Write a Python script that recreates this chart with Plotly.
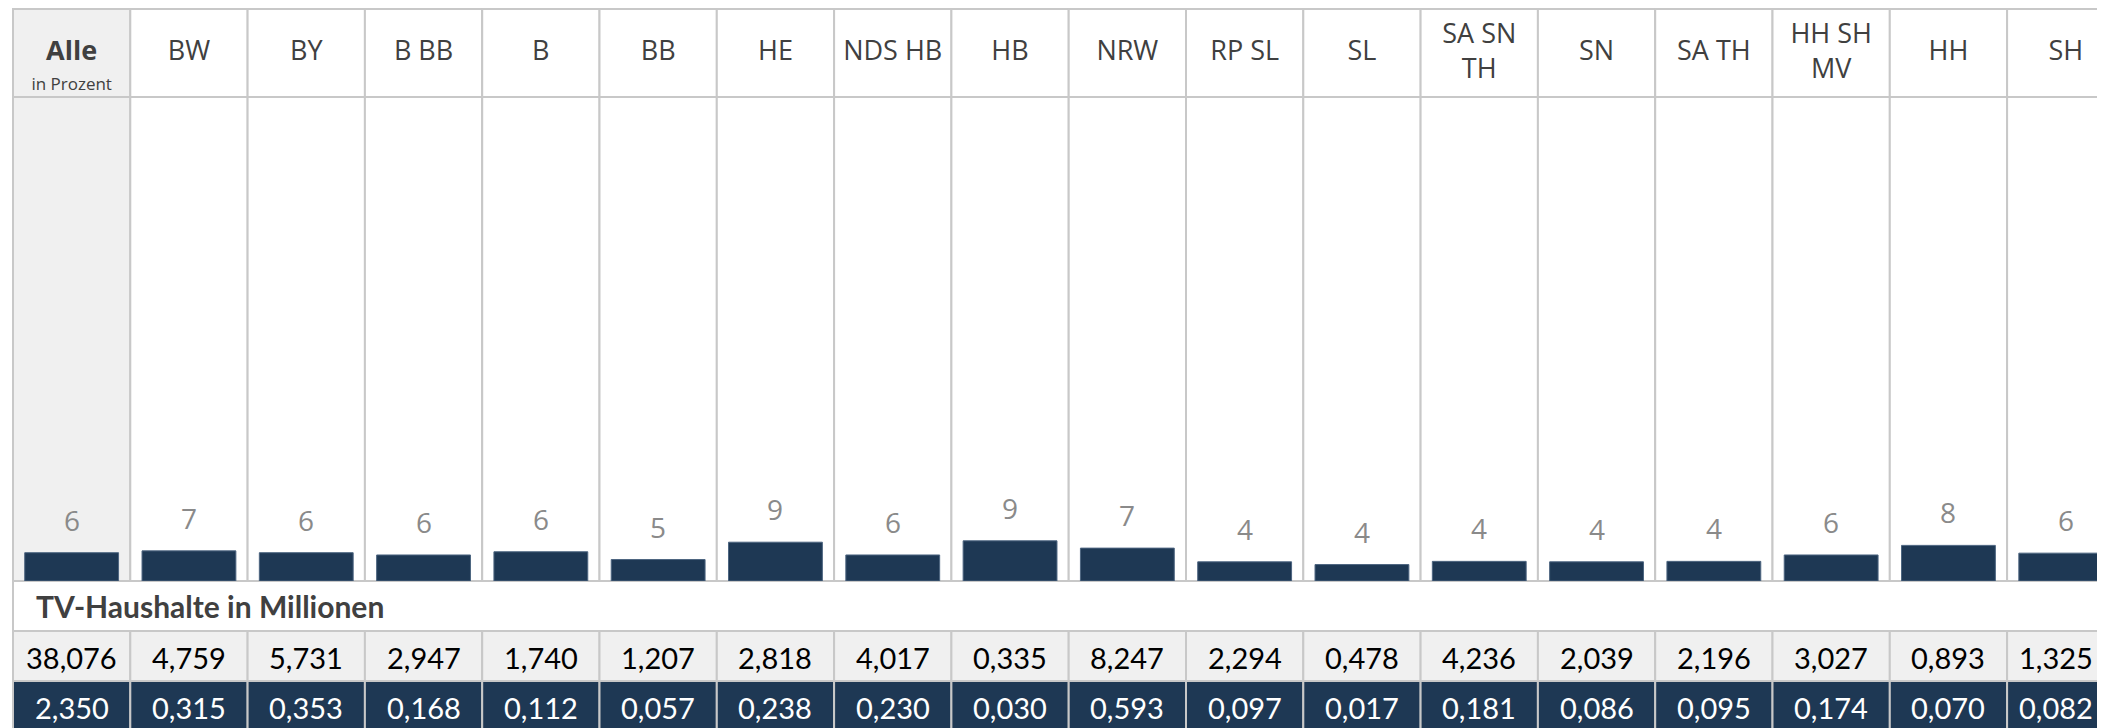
import plotly.graph_objects as go

# ---------------- data ----------------
regions = ["Alle", "BW", "BY", "B BB", "B", "BB", "HE", "NDS HB", "HB", "NRW",
           "RP SL", "SL", "SA SN TH", "SN", "SA TH", "HH SH MV", "HH", "SH"]
header_labels = ["<b>Alle</b>", "BW", "BY", "B BB", "B", "BB", "HE", "NDS HB", "HB", "NRW",
                 "RP SL", "SL", "SA SN<br>TH", "SN", "SA TH", "HH SH<br>MV", "HH", "SH"]
percent_values = [6.2, 6.6, 6.2, 5.7, 6.4, 4.7, 8.5, 5.7, 8.8, 7.2,
                  4.2, 3.6, 4.3, 4.2, 4.3, 5.7, 7.8, 6.1]
percent_labels = ["6", "7", "6", "6", "6", "5", "9", "6", "9", "7",
                  "4", "4", "4", "4", "4", "6", "8", "6"]
tv_total = [38.076, 4.759, 5.731, 2.947, 1.740, 1.207, 2.818, 4.017, 0.335, 8.247,
            2.294, 0.478, 4.236, 2.039, 2.196, 3.027, 0.893, 1.325]
tv_group = [2.350, 0.315, 0.353, 0.168, 0.112, 0.057, 0.238, 0.230, 0.030, 0.593,
            0.097, 0.017, 0.181, 0.086, 0.095, 0.174, 0.070, 0.082]
section_title = "TV-Haushalte in Millionen"
unit_label = "in Prozent"

# ---------------- style / layout ----------------
W, H = 2105, 728
OFF = 8            # page offset of the figure (default body margin)
NAVY = "#1e3854"
GRID = "#c8c8c8"
LIGHT = "#f0f0f0"
n = len(regions)
col_px = 117.3     # column width in pixels
left_page = 13     # left border position on the page
margin_l = 3


def fmt(v):
    return f"{v:.3f}".replace(".", ",")


def pd(page_px):  # page pixel from top -> paper fraction
    return 1 - (page_px - OFF) / H


cell_colors = [LIGHT] + ["#ffffff"] * (n - 1)
fig = go.Figure()

# header cells
fig.add_trace(go.Bar(x=regions, y=[1] * n, base=[0] * n, width=1, yaxis="y3",
                     marker=dict(color=cell_colors, line=dict(color=GRID, width=2)),
                     hoverinfo="skip", showlegend=False))
fig.add_trace(go.Scatter(x=regions, y=[0.493] * n, text=header_labels, mode="text", yaxis="y3",
                         textfont=dict(family="Open Sans", size=27, color="#404040"),
                         hoverinfo="skip", showlegend=False, cliponaxis=False))
fig.add_trace(go.Scatter(x=[regions[0]], y=[0.132], text=[unit_label], mode="text", yaxis="y3",
                         textfont=dict(family="Open Sans", size=17, color="#404040"),
                         hoverinfo="skip", showlegend=False, cliponaxis=False))

# bar area cells
fig.add_trace(go.Bar(x=regions, y=[106] * n, base=[0] * n, width=1, yaxis="y",
                     marker=dict(color=cell_colors, line=dict(color=GRID, width=2)),
                     hoverinfo="skip", showlegend=False))
# data bars
fig.add_trace(go.Bar(x=regions, y=percent_values, width=0.8, yaxis="y",
                     marker=dict(color=NAVY, line=dict(color="#4d6580", width=1)),
                     hoverinfo="skip", showlegend=False))

annotations = []
for r, v, lab in zip(regions, percent_values, percent_labels):
    annotations.append(dict(x=r, y=v, xref="x", yref="y", text=lab, showarrow=False,
                            yanchor="bottom", yshift=12,
                            font=dict(family="Open Sans", size=28, color="#8a8a8a")))

# table: section row spanning all columns
fig.add_trace(go.Bar(x=[regions[0]], y=[1], base=[-0.5], width=[n], offset=-0.5, yaxis="y2",
                     marker=dict(color="#ffffff", line=dict(color=GRID, width=2)),
                     hoverinfo="skip", showlegend=False))
annotations.append(dict(x=-0.5, y=0.0, xref="x", yref="y2", xanchor="left", yanchor="middle",
                        xshift=21, text=f"<b>{section_title}</b>", showarrow=False,
                        font=dict(family="Lato", size=30, color="#404040")))
# row 1 / row 2 cells
fig.add_trace(go.Bar(x=regions, y=[1] * n, base=[0.5] * n, width=1, yaxis="y2",
                     marker=dict(color=LIGHT, line=dict(color=GRID, width=2)),
                     hoverinfo="skip", showlegend=False))
fig.add_trace(go.Bar(x=regions, y=[1] * n, base=[1.5] * n, width=1, yaxis="y2",
                     marker=dict(color=NAVY, line=dict(color=GRID, width=2)),
                     hoverinfo="skip", showlegend=False))

# table values: centred in the visible part of each cell (last column is cut by the page edge)
page_right = W
for i, (r, a, b) in enumerate(zip(regions, tv_total, tv_group)):
    c_left = left_page + i * col_px
    c_right = min(c_left + col_px, page_right)
    shift = (c_left + c_right) / 2 - (c_left + col_px / 2)
    for yv, val, col in ((1.03, a, "#000000"), (2.03, b, "#ffffff")):
        annotations.append(dict(x=r, y=yv, xref="x", yref="y2", xanchor="center",
                                yanchor="middle", xshift=shift, text=fmt(val), showarrow=False,
                                font=dict(family="Lato", size=29, color=col)))

x0 = -0.5 - (left_page - OFF - margin_l) / col_px
x1 = -0.5 + (W + OFF - left_page) / col_px
hidden = dict(showticklabels=False, showgrid=False, zeroline=False, showline=False,
              ticks="", automargin=False)

header_px = (97 - OFF) - 1  # header cell height in pixels inside its domain
fig.update_layout(
    width=W, height=H,
    margin=dict(l=margin_l, r=0, t=0, b=0),
    paper_bgcolor="#ffffff", plot_bgcolor="#ffffff",
    barmode="overlay", showlegend=False,
    font=dict(family="Open Sans"),
    xaxis=dict(range=[x0, x1], type="category", anchor="y2", **hidden),
    yaxis=dict(domain=[pd(581), pd(97)], range=[0, 106], anchor="x", **hidden),
    yaxis2=dict(domain=[0, pd(581)], range=[-0.5 + (H + OFF - 581) / 50, -0.5], anchor="x", **hidden),
    yaxis3=dict(domain=[pd(97), 1], range=[0, 1 + 1 / header_px], anchor="x", **hidden),
    annotations=annotations,
)

fig.write_html("out.html")
